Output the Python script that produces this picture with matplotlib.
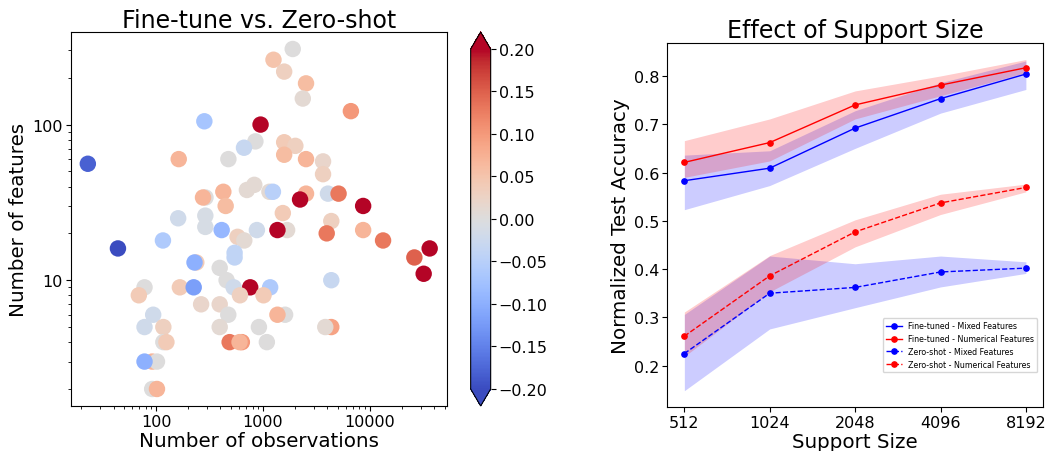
import numpy as np
import matplotlib
matplotlib.use("Agg")
import matplotlib.pyplot as plt
from matplotlib.ticker import NullLocator, FixedLocator, FixedFormatter

# ---------------- Left panel data ----------------
n_obs = [1900, 1255, 1580, 2530, 2360, 6650, 283, 950, 850, 1580,
         2010, 665, 475, 1580, 2530, 3650, 3650, 23, 163, 830,
         708, 1150, 1240, 426, 290, 275, 2530, 2225, 4060, 5100,
         8660, 448, 1535, 161, 289, 289, 411, 878, 1683, 1367,
         4360, 3950, 8660, 13300, 36300, 26100, 31900, 44, 116, 579,
         669, 543, 543, 238, 229, 394, 457, 532, 760, 1168,
         4360, 78, 69, 167, 225, 610, 1012, 264, 394, 474,
         1612, 1367, 94, 78, 117, 394, 917, 4360, 3830, 117,
         125, 488, 635, 604, 1088, 92, 102, 78, 92, 102]
n_feat = [306, 261, 219, 184, 147, 122, 105, 100, 78, 77,
          73, 71, 60, 64, 60, 58, 48, 56, 60, 41,
          38, 37, 37, 37, 34, 34, 36, 33, 36, 36,
          30, 30, 27, 25, 26, 22, 21, 21, 21, 21,
          24, 20, 21, 18, 16, 14, 11, 16, 18, 19,
          18, 15, 14, 13, 13, 12, 10, 9, 9, 9,
          10, 9, 8, 9, 9, 8, 8, 7, 7, 6,
          6, 6, 6, 5, 5, 5, 5, 5, 5, 4,
          4, 4, 4, 4, 4, 3, 3, 3, 2, 2]
delta = [0.00, 0.05, 0.03, 0.06, 0.01, 0.10, -0.07, 0.20, 0.00, 0.04,
         0.03, -0.03, 0.00, 0.06, 0.07, 0.02, 0.03, -0.18, 0.07, 0.01,
         0.01, 0.01, -0.05, 0.07, 0.00, 0.07, 0.07, 0.20, -0.02, 0.13,
         0.20, 0.06, 0.04, -0.02, -0.01, -0.01, -0.09, -0.02, 0.01, 0.20,
         0.03, 0.13, 0.07, 0.13, 0.20, 0.15, 0.20, -0.20, -0.06, 0.03,
         0.01, -0.04, -0.04, 0.04, -0.10, 0.00, 0.00, -0.02, 0.20, -0.06,
         -0.03, 0.00, 0.04, 0.04, -0.12, 0.03, 0.04, 0.02, 0.02, 0.00,
         0.00, 0.07, -0.02, -0.02, 0.03, 0.01, 0.00, 0.09, 0.01, 0.00,
         0.04, 0.13, 0.10, 0.07, 0.00, 0.07, 0.00, -0.10, 0.00, 0.07]
cbar_ticks = [-0.20, -0.15, -0.10, -0.05, 0.00, 0.05, 0.10, 0.15, 0.20]

# ---------------- Right panel data ----------------
support = [512, 1024, 2048, 4096, 8192]
support_labels = ["512", "1024", "2048", "4096", "8192"]

ft_mixed = [0.583, 0.609, 0.692, 0.753, 0.804]
ft_mixed_lo = [0.523, 0.573, 0.650, 0.723, 0.772]
ft_mixed_hi = [0.636, 0.645, 0.728, 0.786, 0.831]

ft_num = [0.621, 0.662, 0.740, 0.781, 0.817]
ft_num_lo = [0.590, 0.624, 0.711, 0.759, 0.807]
ft_num_hi = [0.666, 0.711, 0.769, 0.800, 0.834]

zs_mixed = [0.225, 0.350, 0.362, 0.394, 0.402]
zs_mixed_lo = [0.148, 0.276, 0.320, 0.363, 0.391]
zs_mixed_hi = [0.306, 0.427, 0.411, 0.427, 0.415]

zs_num = [0.261, 0.386, 0.477, 0.537, 0.569]
zs_num_lo = [0.219, 0.353, 0.446, 0.513, 0.560]
zs_num_hi = [0.311, 0.428, 0.502, 0.555, 0.576]

TICK_FS = 11.5
LABEL_FS = 14.3
TITLE_FS = 17.1

# ---------------- Figure ----------------
fig = plt.figure(figsize=(10.48, 4.52), dpi=100)

ax1 = fig.add_axes([0.0675, 0.0996, 0.3588, 0.8274])
cax = fig.add_axes([0.4491, 0.0996, 0.0191, 0.8274])
ax2 = fig.add_axes([0.6367, 0.0967, 0.3585, 0.806])

sc = ax1.scatter(n_obs, n_feat, c=delta, cmap="coolwarm", vmin=-0.2, vmax=0.2,
                 s=140, linewidths=0)
ax1.set_xscale("log")
ax1.set_yscale("log")
ax1.set_xticks([100, 1000, 10000])
ax1.set_xticklabels(["100", "1000", "10000"])
ax1.set_yticks([10, 100])
ax1.set_yticklabels(["10", "100"])
ax1.tick_params(axis="both", which="major", labelsize=TICK_FS, length=3.3, pad=2.5)
ax1.tick_params(axis="both", which="minor", length=2)
ax1.set_xlabel("Number of observations", fontsize=LABEL_FS, labelpad=1.5)
ax1.set_ylabel("Number of features", fontsize=LABEL_FS, labelpad=3)
ax1.set_title("Fine-tune vs. Zero-shot", fontsize=TITLE_FS, pad=2.5)

cb = fig.colorbar(sc, cax=cax, extend="both")
cb.set_ticks(cbar_ticks)
cb.ax.tick_params(labelsize=TICK_FS, length=3.3, pad=2.5)

# Right panel
ax2.plot(support, ft_mixed, "-o", color="blue", markersize=3.8, linewidth=1,
         label="Fine-tuned - Mixed Features")
ax2.fill_between(support, ft_mixed_lo, ft_mixed_hi, color="blue", alpha=0.2, linewidth=0)
ax2.plot(support, ft_num, "-o", color="red", markersize=3.8, linewidth=1,
         label="Fine-tuned - Numerical Features")
ax2.fill_between(support, ft_num_lo, ft_num_hi, color="red", alpha=0.2, linewidth=0)
ax2.plot(support, zs_mixed, "--o", color="blue", markersize=3.8, linewidth=1,
         label="Zero-shot - Mixed Features")
ax2.fill_between(support, zs_mixed_lo, zs_mixed_hi, color="blue", alpha=0.2, linewidth=0)
ax2.plot(support, zs_num, "--o", color="red", markersize=3.8, linewidth=1,
         label="Zero-shot - Numerical Features")
ax2.fill_between(support, zs_num_lo, zs_num_hi, color="red", alpha=0.2, linewidth=0)

ax2.set_xscale("log", base=2)
ax2.xaxis.set_major_locator(FixedLocator(support))
ax2.xaxis.set_major_formatter(FixedFormatter(support_labels))
ax2.xaxis.set_minor_locator(NullLocator())
ax2.tick_params(axis="both", which="major", labelsize=TICK_FS, length=3.3, pad=2.5)
ax2.set_xlabel("Support Size", fontsize=LABEL_FS, labelpad=1.5)
ax2.set_ylabel("Normalized Test Accuracy", fontsize=LABEL_FS, labelpad=3)
ax2.set_title("Effect of Support Size", fontsize=TITLE_FS, pad=4.5)
ax2.legend(loc="lower right", bbox_to_anchor=(0.995, 0.085), fontsize=5.7)

fig.savefig("out.png", dpi=100)
